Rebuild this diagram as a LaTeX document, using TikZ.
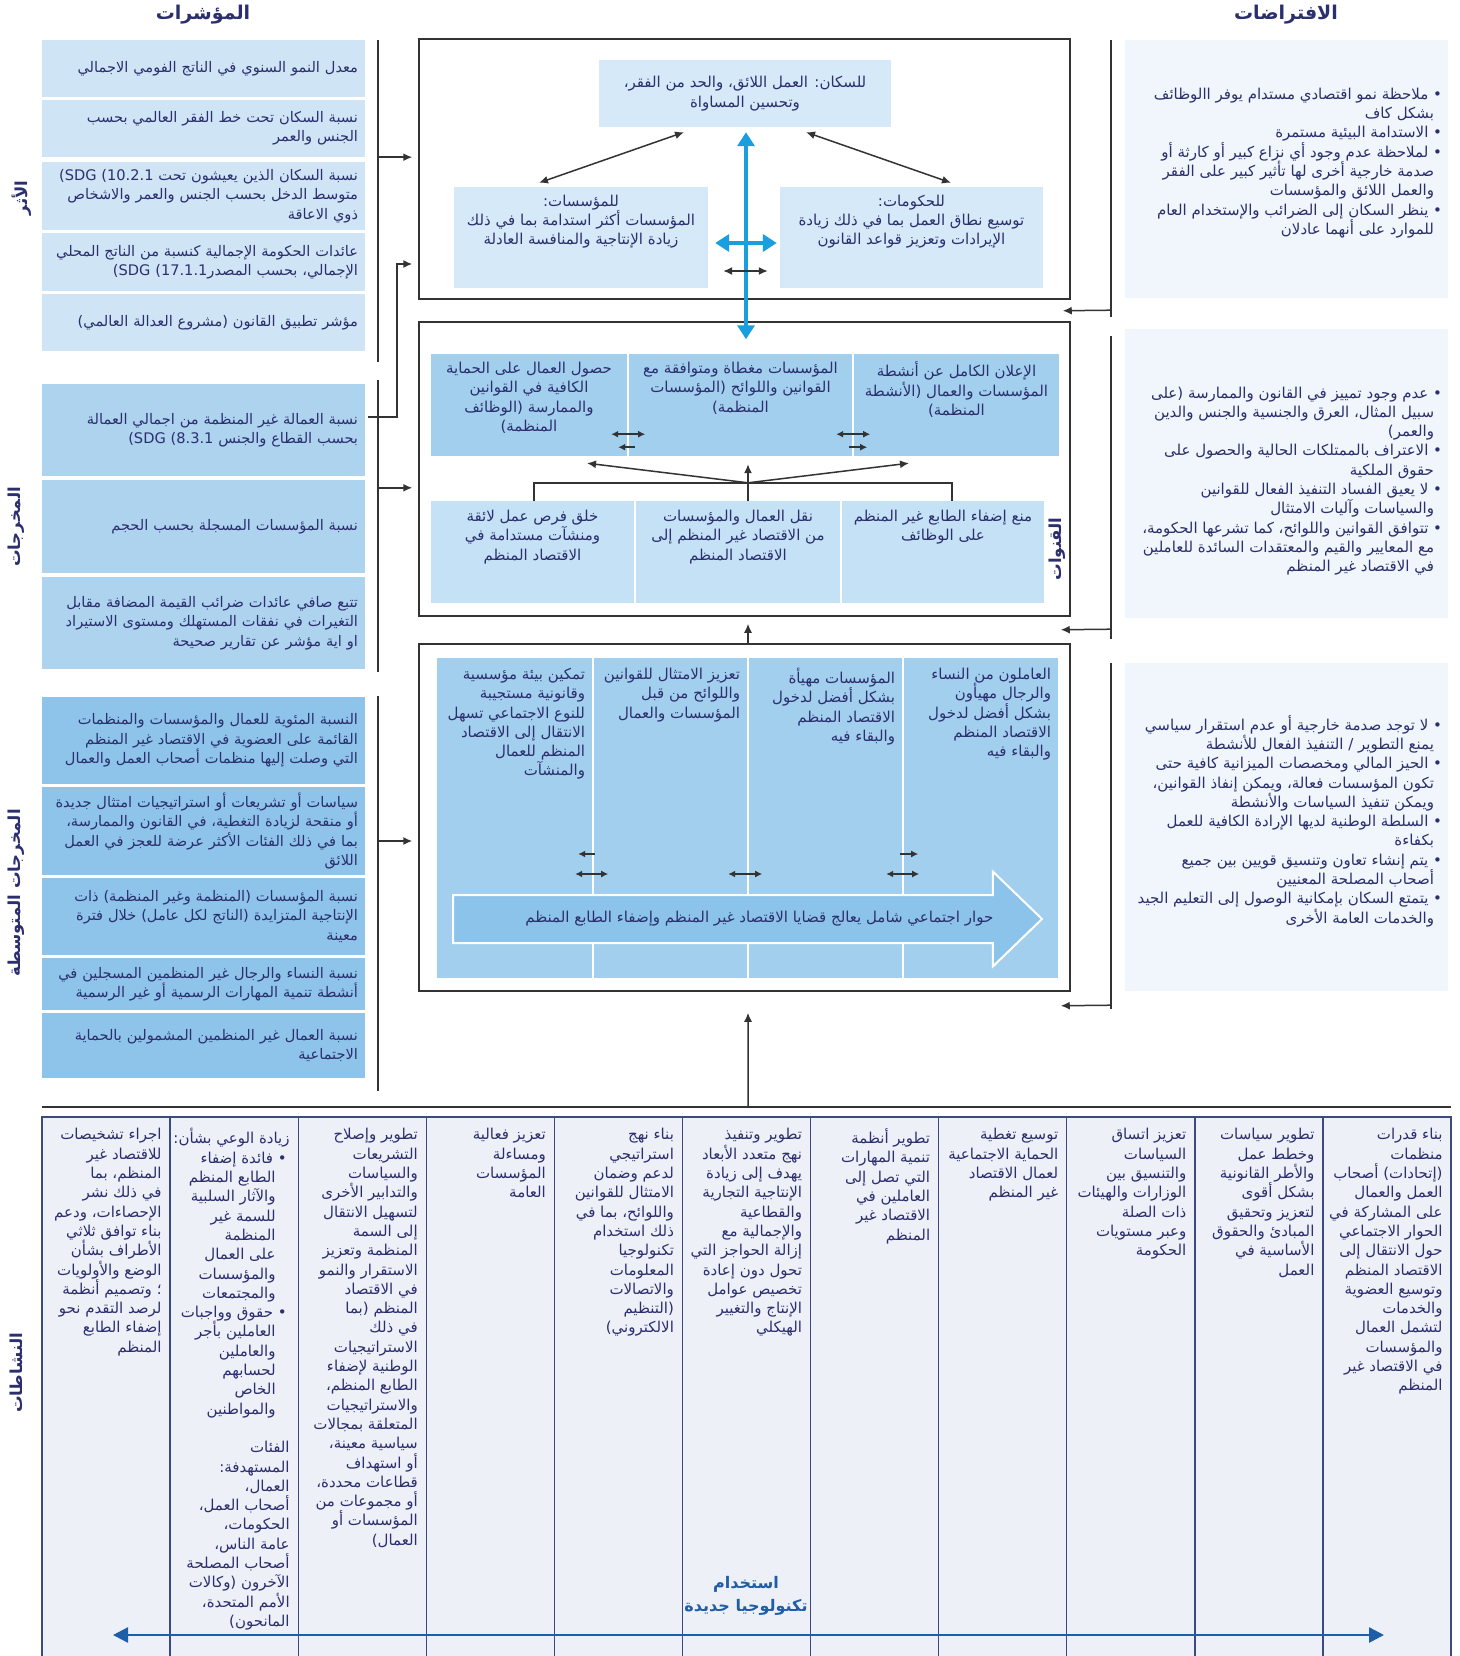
\documentclass[tikz,border=0pt]{standalone}
\usepackage{fontspec}
\setmainfont{DejaVu Sans}
\newfontfamily\arabicfont[Script=Arabic]{DejaVu Sans}
\TeXXeTstate=1
\usetikzlibrary{calc}
\usetikzlibrary{arrows.meta}
\usetikzlibrary{shapes.arrows}
\usetikzlibrary{positioning}

\definecolor{navy}{HTML}{2B2F6E}
\definecolor{impactfill}{HTML}{CFE4F5}
\definecolor{outputfill}{HTML}{ADD3EF}
\definecolor{midfill}{HTML}{8EC4EA}
\definecolor{goalfill}{HTML}{D6E9F8}
\definecolor{chanfill}{HTML}{A3CFEE}
\definecolor{chanlight}{HTML}{C4E1F5}
\definecolor{dialogfill}{HTML}{8CC3EA}
\definecolor{assumefill}{HTML}{F0F6FB}
\definecolor{actfill}{HTML}{EEF0F8}
\definecolor{actline}{HTML}{3D4A82}
\definecolor{linkblue}{HTML}{1A9EE0}
\definecolor{actblue}{HTML}{1E5DA8}
\definecolor{frameline}{HTML}{333333}

\newcommand{\arline}[1]{\beginR #1\endR}
\newcommand{\bodyfont}{\arabicfont\fontsize{14.6}{19.3}\selectfont}
\newcommand{\boxfont}{\arabicfont\fontsize{15}{19.3}\selectfont}
\newcommand{\headfont}{\arabicfont\bfseries\fontsize{19}{22}\selectfont}
\newcommand{\sidefont}{\arabicfont\bfseries\fontsize{16.5}{22}\selectfont}

\tikzset{
	every node/.style={text=navy, inner sep=0pt, font=\bodyfont},
	impact/.style={
		fill=impactfill,
		minimum width=323pt,
		text width=309pt,
		align=right,
	},
	output/.style={impact, fill=outputfill},
	midout/.style={impact, fill=midfill},
	frame/.style={draw=frameline, line width=1.5pt, minimum width=651pt},
	goal/.style={fill=goalfill},
	chan/.style={fill=chanfill, minimum height=102pt},
	chanlow/.style={fill=chanlight, minimum height=102pt},
	result/.style={fill=chanfill, minimum height=320pt},
	assume/.style={fill=assumefill, minimum width=323pt},
	boxtext/.style={font=\boxfont},
	actcell/.style={
		fill=actfill,
		draw=actline,
		line width=1.3pt,
		minimum width=128.1pt,
		minimum height=542pt,
	},
	acttext/.style={boxtext, align=right, anchor=north east},
	sidelabel/.style={font=\sidefont, rotate=90},
	dialogarrow/.style={
		single arrow,
		fill=dialogfill,
		draw=white,
		line width=2pt,
		inner xsep=0pt,
		inner ysep=23pt,
		minimum height=589pt,
		minimum width=93pt,
		single arrow head extend=23.5pt,
		single arrow tip angle=88,
		anchor=tail,
	},
	bracket/.style={draw=frameline, line width=2pt},
	link/.style={draw=frameline, line width=1.5pt},
	arr/.style={
		link,
		-{Latex[length=9pt,width=8pt]}
	},
	dblarr/.style={
		link,
		{Latex[length=9pt,width=8pt]}-{Latex[length=9pt,width=8pt]}
	},
	tinyarr/.style={
		link,
		-{Latex[length=7pt,width=7pt]}
	},
	tinydbl/.style={
		link,
		{Latex[length=7pt,width=7pt]}-{Latex[length=7pt,width=7pt]}
	},
	bluedbl/.style={
		draw=linkblue,
		line width=4pt,
		{Triangle[length=14pt,width=17pt]}-{Triangle[length=14pt,width=17pt]}
	},
	actarrow/.style={
		draw=actblue,
		line width=2.5pt,
		{Triangle[length=15pt,width=15pt]}-{Triangle[length=15pt,width=15pt]}
	},
}

\begin{document}
\begin{tikzpicture}[x=1pt,y=-1pt]
	\path[use as bounding box, fill=white] (0,0) rectangle (1459,1656);

	\node[font=\headfont] (indtitle) at (203,15) {\arline{المؤشرات}};
	\node[font=\headfont] (asmtitle) at (1286,15) {\arline{الافتراضات}};

	\node[sidelabel] (lblimpact) at (22,198) {\arline{الأثر}};
	\node[sidelabel] (lbloutput) at (16,527) {\arline{المخرجات}};
	\node[sidelabel] (lblmid) at (16,893) {\arline{المخرجات المتوسطة}};
	\node[sidelabel] (lblact) at (16,1373) {\arline{النشاطات}};

	% indicators
	\node[impact, minimum height=57pt] (i1) at (203.5,68.5) {\arline{معدل النمو السنوي في الناتج الفومي الاجمالي}};
	\node[impact, minimum height=57pt] (i2) at (203.5,128.5) {\arline{نسبة السكان تحت خط الفقر العالمي بحسب}\\\arline{الجنس والعمر}};
	\node[impact, minimum height=68pt] (i3) at (203.5,196) {\arline{نسبة السكان الذين يعيشون تحت \beginL(SDG 10.2.1)\endL}\\\arline{متوسط الدخل بحسب الجنس والعمر والاشخاص}\\\arline{ذوي الاعاقة}};
	\node[impact, minimum height=58pt] (i4) at (203.5,262) {\arline{عائدات الحكومة الإجمالية كنسبة من الناتج المحلي}\\\arline{الإجمالي، بحسب المصدر\beginL(SDG 17.1.1)\endL}};
	\node[impact, minimum height=57pt] (i5) at (203.5,322.5) {\arline{مؤشر تطبيق القانون (مشروع العدالة العالمي)}};

	\node[output, minimum height=92pt] (o1) at (203.5,430) {\arline{نسبة العمالة غير المنظمة من اجمالي العمالة}\\\arline{بحسب القطاع والجنس \beginL(SDG 8.3.1)\endL}};
	\node[output, minimum height=93pt] (o2) at (203.5,526.5) {\arline{نسبة المؤسسات المسجلة بحسب الحجم}};
	\node[output, minimum height=92pt] (o3) at (203.5,623) {\arline{تتبع صافي عائدات ضرائب القيمة المضافة مقابل}\\\arline{التغيرات في نفقات المستهلك ومستوى الاستيراد}\\\arline{او اية مؤشر عن تقارير صحيحة}};

	\node[midout, minimum height=87pt] (m1) at (203.5,740.5) {\arline{النسبة المئوية للعمال والمؤسسات والمنظمات}\\\arline{القائمة على العضوية في الاقتصاد غير المنظم}\\\arline{التي وصلت إليها منظمات أصحاب العمل والعمال}};
	\node[midout, minimum height=88pt] (m2) at (203.5,831) {\arline{سياسات أو تشريعات أو استراتيجيات امتثال جديدة}\\\arline{أو منقحة لزيادة التغطية، في القانون والممارسة،}\\\arline{بما في ذلك الفئات الأكثر عرضة للعجز في العمل}\\\arline{اللائق}};
	\node[midout, minimum height=77pt] (m3) at (203.5,916.5) {\arline{نسبة المؤسسات (المنظمة وغير المنظمة) ذات}\\\arline{الإنتاجية المتزايدة (الناتج لكل عامل) خلال فترة}\\\arline{معينة}};
	\node[midout, minimum height=52pt] (m4) at (203.5,984) {\arline{نسبة النساء والرجال غير المنظمين المسجلين في}\\\arline{أنشطة تنمية المهارات الرسمية أو غير الرسمية}};
	\node[midout, minimum height=65pt] (m5) at (203.5,1045.5) {\arline{نسبة العمال غير المنظمين المشمولين بالحماية}\\\arline{الاجتماعية}};

	% impact box
	\node[frame, minimum height=260pt] (impact) at (744.5,169) {};
	\node[goal, boxtext, minimum width=292pt, minimum height=67pt, align=center] (pop) at (745,93.5) {\arline{للسكان: العمل اللائق، والحد من الفقر،}\\\arline{وتحسين المساواة}};
	\node[goal, minimum width=254pt, minimum height=101pt] (ent) at (581,237.5) {};
	\node[goal, minimum width=263pt, minimum height=101pt] (gov) at (911.5,237.5) {};
	\node[boxtext, align=center, anchor=north] (enttext) at ($(ent.north)+(0,8)$) {\arline{للمؤسسات:}\\\arline{المؤسسات أكثر استدامة بما في ذلك}\\\arline{زيادة الإنتاجية والمنافسة العادلة}};
	\node[boxtext, align=center, anchor=north] (govtext) at ($(gov.north)+(0,8)$) {\arline{للحكومات:}\\\arline{توسيع نطاق العمل بما في ذلك زيادة}\\\arline{الإيرادات وتعزيز قواعد القانون}};

	% channels box
	\node[frame, minimum height=294pt] (channels) at (744.5,469) {};
	\node[chan, minimum width=196pt] (protect) at (529,405) {};
	\node[chan, minimum width=223pt] (comply) at (740.5,405) {};
	\node[chan, minimum width=205pt] (disclose) at (956.5,405) {};
	\node[chanlow, minimum width=203pt] (create) at (532.5,552) {};
	\node[chanlow, minimum width=204pt] (transit) at (738,552) {};
	\node[chanlow, minimum width=202pt] (prevent) at (943,552) {};
	\node[boxtext, align=center, anchor=north] (protecttext) at ($(protect.north)+(0,8)$) {\arline{حصول العمال على الحماية}\\\arline{الكافية في القوانين}\\\arline{والممارسة (الوظائف}\\\arline{المنظمة)}};
	\node[boxtext, align=center, anchor=north] (complytext) at ($(comply.north)+(0,8)$) {\arline{المؤسسات مغطاة ومتوافقة مع}\\\arline{القوانين واللوائح (المؤسسات}\\\arline{المنظمة)}};
	\node[boxtext, align=center, anchor=north] (disclosetext) at ($(disclose.north)+(0,8)$) {\arline{الإعلان الكامل عن أنشطة}\\\arline{المؤسسات والعمال (الأنشطة}\\\arline{المنظمة)}};
	\node[boxtext, align=center, anchor=north] (createtext) at ($(create.north)+(0,9)$) {\arline{خلق فرص عمل لائقة}\\\arline{ومنشآت مستدامة في}\\\arline{الاقتصاد المنظم}};
	\node[boxtext, align=center, anchor=north] (transittext) at ($(transit.north)+(0,9)$) {\arline{نقل العمال والمؤسسات}\\\arline{من الاقتصاد غير المنظم إلى}\\\arline{الاقتصاد المنظم}};
	\node[boxtext, align=center, anchor=north] (preventtext) at ($(prevent.north)+(0,9)$) {\arline{منع إضفاء الطابع غير المنظم}\\\arline{على الوظائف}};
	\node[sidelabel] (lblchan) at (1057,549) {\arline{القنوات}};

	% intermediate results box
	\node[frame, minimum height=347pt] (lower) at (744.5,817.5) {};
	\node[result, minimum width=155pt] (c4) at (514.5,818) {};
	\node[result, minimum width=153pt] (c3) at (670.5,818) {};
	\node[result, minimum width=153pt] (c2) at (825.5,818) {};
	\node[result, minimum width=154pt] (c1) at (981,818) {};
	\node[boxtext, align=right, anchor=north east] (c1text) at ($(c1.north east)+(-7,10)$) {\arline{العاملون من النساء}\\\arline{والرجال مهيأون}\\\arline{بشكل أفضل لدخول}\\\arline{الاقتصاد المنظم}\\\arline{والبقاء فيه}};
	\node[boxtext, align=right, anchor=north east] (c2text) at ($(c2.north east)+(-7,10)$) {\arline{المؤسسات مهيأة}\\\arline{بشكل أفضل لدخول}\\\arline{الاقتصاد المنظم}\\\arline{والبقاء فيه}};
	\node[boxtext, align=right, anchor=north east] (c3text) at ($(c3.north east)+(-7,10)$) {\arline{تعزيز الامتثال للقوانين}\\\arline{واللوائح من قبل}\\\arline{المؤسسات والعمال}};
	\node[boxtext, align=right, anchor=north east] (c4text) at ($(c4.north east)+(-7,10)$) {\arline{تمكين بيئة مؤسسية}\\\arline{وقانونية مستجيبة}\\\arline{للنوع الاجتماعي تسهل}\\\arline{الانتقال إلى الاقتصاد}\\\arline{المنظم للعمال}\\\arline{والمنشآت}};
	\node[dialogarrow] (dialog) at (452,919) {};
	\node[boxtext, anchor=east] (dialogtext) at ($(dialog.tip)+(-50,0)$) {\arline{حوار اجتماعي شامل يعالج قضايا الاقتصاد غير المنظم وإضفاء الطابع المنظم}};

	% assumptions
	\node[assume, minimum height=258pt] (a1) at (1286.5,169) {};
	\node[assume, minimum height=289pt] (a2) at (1286.5,473.5) {};
	\node[assume, minimum height=328pt] (a3) at (1286.5,827) {};
	\node[boxtext, align=right, anchor=east] (a1text) at ($(a1.east)+(-6,-6)$) {\arline{•\ ملاحظة نمو اقتصادي مستدام يوفر االوظائف}\\\arline{بشكل كاف}\kern8pt\\\arline{•\ الاستدامة البيئية مستمرة}\\\arline{•\ لملاحظة عدم وجود أي نزاع كبير أو كارثة أو}\\\arline{صدمة خارجية أخرى لها تأثير كبير على الفقر}\kern8pt\\\arline{والعمل اللائق والمؤسسات}\kern8pt\\\arline{•\ ينظر السكان إلى الضرائب والإستخدام العام}\\\arline{للموارد على أنهما عادلان}\kern8pt};
	\node[boxtext, align=right, anchor=east] (a2text) at ($(a2.east)+(-6,7.5)$) {\arline{•\ عدم وجود تمييز في القانون والممارسة (على}\\\arline{سبيل المثال، العرق والجنسية والجنس والدين}\kern8pt\\\arline{والعمر)}\kern8pt\\\arline{•\ الاعتراف بالممتلكات الحالية والحصول على}\\\arline{حقوق الملكية}\kern8pt\\\arline{•\ لا يعيق الفساد التنفيذ الفعال للقوانين}\\\arline{والسياسات وآليات الامتثال}\kern8pt\\\arline{•\ تتوافق القوانين واللوائح، كما تشرعها الحكومة،}\\\arline{مع المعايير والقيم والمعتقدات السائدة للعاملين}\kern8pt\\\arline{في الاقتصاد غير المنظم}\kern8pt};
	\node[boxtext, align=right, anchor=east] (a3text) at ($(a3.east)+(-6,-6)$) {\arline{•\ لا توجد صدمة خارجية أو عدم استقرار سياسي}\\\arline{يمنع التطوير / التنفيذ الفعال للأنشطة}\kern8pt\\\arline{•\ الحيز المالي ومخصصات الميزانية كافية حتى}\\\arline{تكون المؤسسات فعالة، ويمكن إنفاذ القوانين،}\kern8pt\\\arline{ويمكن تنفيذ السياسات والأنشطة}\kern8pt\\\arline{•\ السلطة الوطنية لديها الإرادة الكافية للعمل}\\\arline{بكفاءة}\kern8pt\\\arline{•\ يتم إنشاء تعاون وتنسيق قويين بين جميع}\\\arline{أصحاب المصلحة المعنيين}\kern8pt\\\arline{•\ يتمتع السكان بإمكانية الوصول إلى التعليم الجيد}\\\arline{والخدمات العامة الأخرى}\kern8pt};

	% activities
	\foreach \i in {0,...,10}
		\node[actcell] (act\i) at ({106.05+128.1*\i},1388) {};
	\node[acttext] (act10text) at ($(act10.north east)+(-9,12)$) {\arline{بناء قدرات}\\\arline{منظمات}\\\arline{(إتحادات) أصحاب}\\\arline{العمل والعمال}\\\arline{على المشاركة في}\\\arline{الحوار الاجتماعي}\\\arline{حول الانتقال إلى}\\\arline{الاقتصاد المنظم}\\\arline{وتوسيع العضوية}\\\arline{والخدمات}\\\arline{لتشمل العمال}\\\arline{والمؤسسات}\\\arline{في الاقتصاد غير}\\\arline{المنظم}};
	\node[acttext] (act9text) at ($(act9.north east)+(-9,12)$) {\arline{تطوير سياسات}\\\arline{وخطط عمل}\\\arline{والأطر القانونية}\\\arline{بشكل أقوى}\\\arline{لتعزيز وتحقيق}\\\arline{المبادئ والحقوق}\\\arline{الأساسية في}\\\arline{العمل}};
	\node[acttext] (act8text) at ($(act8.north east)+(-9,12)$) {\arline{تعزيز اتساق}\\\arline{السياسات}\\\arline{والتنسيق بين}\\\arline{الوزارات والهيئات}\\\arline{ذات الصلة}\\\arline{وعبر مستويات}\\\arline{الحكومة}};
	\node[acttext] (act7text) at ($(act7.north east)+(-9,12)$) {\arline{توسيع تغطية}\\\arline{الحماية الاجتماعية}\\\arline{لعمال الاقتصاد}\\\arline{غير المنظم}};
	\node[acttext] (act6text) at ($(act6.north east)+(-9,12)$) {\arline{تطوير أنظمة}\\\arline{تنمية المهارات}\\\arline{التي تصل إلى}\\\arline{العاملين في}\\\arline{الاقتصاد غير}\\\arline{المنظم}};
	\node[acttext] (act5text) at ($(act5.north east)+(-9,12)$) {\arline{تطوير وتنفيذ}\\\arline{نهج متعدد الأبعاد}\\\arline{يهدف إلى زيادة}\\\arline{الإنتاجية التجارية}\\\arline{والقطاعية}\\\arline{والإجمالية مع}\\\arline{إزالة الحواجز التي}\\\arline{تحول دون إعادة}\\\arline{تخصيص عوامل}\\\arline{الإنتاج والتغيير}\\\arline{الهيكلي}};
	\node[acttext] (act4text) at ($(act4.north east)+(-9,12)$) {\arline{بناء نهج}\\\arline{استراتيجي}\\\arline{لدعم وضمان}\\\arline{الامتثال للقوانين}\\\arline{واللوائح، بما في}\\\arline{ذلك استخدام}\\\arline{تكنولوجيا}\\\arline{المعلومات}\\\arline{والاتصالات}\\\arline{(التنظيم}\\\arline{الالكتروني)}};
	\node[acttext] (act3text) at ($(act3.north east)+(-9,12)$) {\arline{تعزيز فعالية}\\\arline{ومساءلة}\\\arline{المؤسسات}\\\arline{العامة}};
	\node[acttext] (act2text) at ($(act2.north east)+(-9,12)$) {\arline{تطوير وإصلاح}\\\arline{التشريعات}\\\arline{والسياسات}\\\arline{والتدابير الأخرى}\\\arline{لتسهيل الانتقال}\\\arline{إلى السمة}\\\arline{المنظمة وتعزيز}\\\arline{الاستقرار والنمو}\\\arline{في الاقتصاد}\\\arline{المنظم (بما}\\\arline{في ذلك}\\\arline{الاستراتيجيات}\\\arline{الوطنية لإضفاء}\\\arline{الطابع المنظم،}\\\arline{والاستراتيجيات}\\\arline{المتعلقة بمجالات}\\\arline{سياسية معينة،}\\\arline{أو استهداف}\\\arline{قطاعات محددة،}\\\arline{أو مجموعات من}\\\arline{المؤسسات أو}\\\arline{العمال)}};
	\node[acttext] (act1text) at ($(act1.north east)+(-9,12)$) {\arline{زيادة الوعي بشأن:}\\\arline{•\ فائدة إضفاء}\kern3pt\\\arline{الطابع المنظم}\kern14pt\\\arline{والآثار السلبية}\kern14pt\\\arline{للسمة غير}\kern14pt\\\arline{المنظمة}\kern14pt\\\arline{على العمال}\kern14pt\\\arline{والمؤسسات}\kern14pt\\\arline{والمجتمعات}\kern14pt\\\arline{•\ حقوق وواجبات}\kern3pt\\\arline{العاملين بأجر}\kern14pt\\\arline{والعاملين}\kern14pt\\\arline{لحسابهم}\kern14pt\\\arline{الخاص}\kern14pt\\\arline{والمواطنين}\kern14pt\\[19.3pt]\arline{الفئات}\\\arline{المستهدفة:}\\\arline{العمال،}\\\arline{أصحاب العمل،}\\\arline{الحكومات،}\\\arline{عامة الناس،}\\\arline{أصحاب المصلحة}\\\arline{الآخرون (وكالات}\\\arline{الأمم المتحدة،}\\\arline{المانحون)}};
	\node[acttext] (act0text) at ($(act0.north east)+(-9,12)$) {\arline{اجراء تشخيصات}\\\arline{للاقتصاد غير}\\\arline{المنظم، بما}\\\arline{في ذلك نشر}\\\arline{الإحصاءات، ودعم}\\\arline{بناء توافق ثلاثي}\\\arline{الأطراف بشأن}\\\arline{الوضع والأولويات}\\\arline{؛ وتصميم أنظمة}\\\arline{لرصد التقدم نحو}\\\arline{إضفاء الطابع}\\\arline{المنظم}};
	\node[font=\arabicfont\bfseries\fontsize{16}{23}\selectfont, text=actblue, align=center] (newtech) at (746,1596) {\arline{استخدام}\\\arline{تكنولوجيا جديدة}};

	\coordinate (actl) at (42,1107);
	\coordinate (actr) at (1451,1107);
	\coordinate (actarrowl) at (113,1635);
	\coordinate (actarrowr) at (1384,1635);
	\draw[bracket] (actl) -- (actr);
	\draw[actarrow] (actarrowl) -- (actarrowr);

	% left brackets
	\draw[bracket] ($(i1.north east)+(13,0)$) -- ($(i5.south east)+(13,11)$);
	\draw[bracket] ($(o1.north east)+(13,-4)$) -- ($(o3.south east)+(13,3)$);
	\draw[bracket] ($(m1.north east)+(13,-1)$) -- ($(m5.south east)+(13,13)$);
	\draw[arr] ($(i2.south east)+(13,0)$) -- ($(i2.south east -| impact.west)+(-6,0)$);
	\draw[arr] ($(o2.north east)+(13,8)$) -- ($(o2.north east -| channels.west)+(-6,8)$);
	\draw[arr] ($(m2.east)+(13,10)$) -- ($(m2.east -| lower.west)+(-6,10)$);
	\draw[arr] ($(o1.east)+(3,-13)$) -| ($(i4.east)+(32,2)$) -- ($(i4.east -| impact.west)+(-6,2)$);

	% right brackets
	\draw[bracket] ($(a1.north west)+(-14,0)$) -- ($(a1.south west)+(-14,19)$);
	\draw[bracket] ($(a2.north west)+(-14,7)$) -- ($(a2.south west)+(-14,21)$);
	\draw[bracket] ($(a3.north west)+(-14,0)$) -- ($(a3.south west)+(-14,18)$);
	\draw[arr] ($(a1.south west)+(-14,12)$) -- ($(impact.south east)+(-8,11)$);
	\draw[arr] ($(a2.south west)+(-14,11)$) -- ($(channels.south east)+(-10,13)$);
	\draw[arr] ($(a3.south west)+(-14,14)$) -- ($(lower.south east)+(-10,14)$);

	% impact links
	\draw[dblarr] ($(ent.north)+(-42,-4)$) -- ($(pop.south)+(-61,5)$);
	\draw[dblarr] ($(pop.south)+(61,5)$) -- ($(gov.north)+(39.5,-4)$);
	\draw[bluedbl] ($(pop.south)+(1,5)$) -- ($(channels.north)+(1.5,18)$);
	\draw[bluedbl] ($(ent.east)+(7,5.5)$) -- ($(gov.west)+(-3,5.5)$);
	\draw[dblarr] ($(ent.east)+(15,33.5)$) -- ($(gov.west)+(-12,33.5)$);

	% channel links
	\coordinate (hub) at ($(transit.north)+(10,-18)$);
	\draw[link] ($(create.north)+(1.5,0)$) |- (hub) -| ($(prevent.north)+(9,0)$);
	\draw[arr] (hub |- transit.north) -- ($(hub |- comply.south)+(0,8)$);
	\draw[arr] (hub) -- ($(protect.south)+(58,7)$);
	\draw[arr] (hub) -- ($(disclose.south)+(-47.5,7)$);
	\draw[tinydbl] ($(protect.south east)+(-16,-22)$) -- ($(protect.south east)+(18,-22)$);
	\draw[tinyarr] ($(protect.south east)+(8,-9)$) -- ($(protect.south east)+(-9,-9)$);
	\draw[tinydbl] ($(comply.south east)+(-16,-22)$) -- ($(comply.south east)+(18,-22)$);
	\draw[tinyarr] ($(comply.south east)+(-3,-9)$) -- ($(comply.south east)+(15,-9)$);

	% result links
	\draw[tinyarr] ($(c4.east)+(3,36)$) -- ($(c4.east)+(-14,36)$);
	\draw[tinydbl] ($(c4.east)+(-17,56)$) -- ($(c4.east)+(16,56)$);
	\draw[tinydbl] ($(c3.east)+(-19,56)$) -- ($(c3.east)+(15,56)$);
	\draw[tinydbl] ($(c2.east)+(-16,56)$) -- ($(c2.east)+(17,56)$);
	\draw[tinyarr] ($(c2.east)+(-2,36)$) -- ($(c2.east)+(16,36)$);
	\draw[arr] ($(lower.north)+(3.5,0)$) -- ($(channels.south)+(3.5,7)$);
	\draw[arr] ($(act5.north)+(1.5,-10)$) -- ($(lower.south)+(3.5,21)$);
\end{tikzpicture}
\end{document}
